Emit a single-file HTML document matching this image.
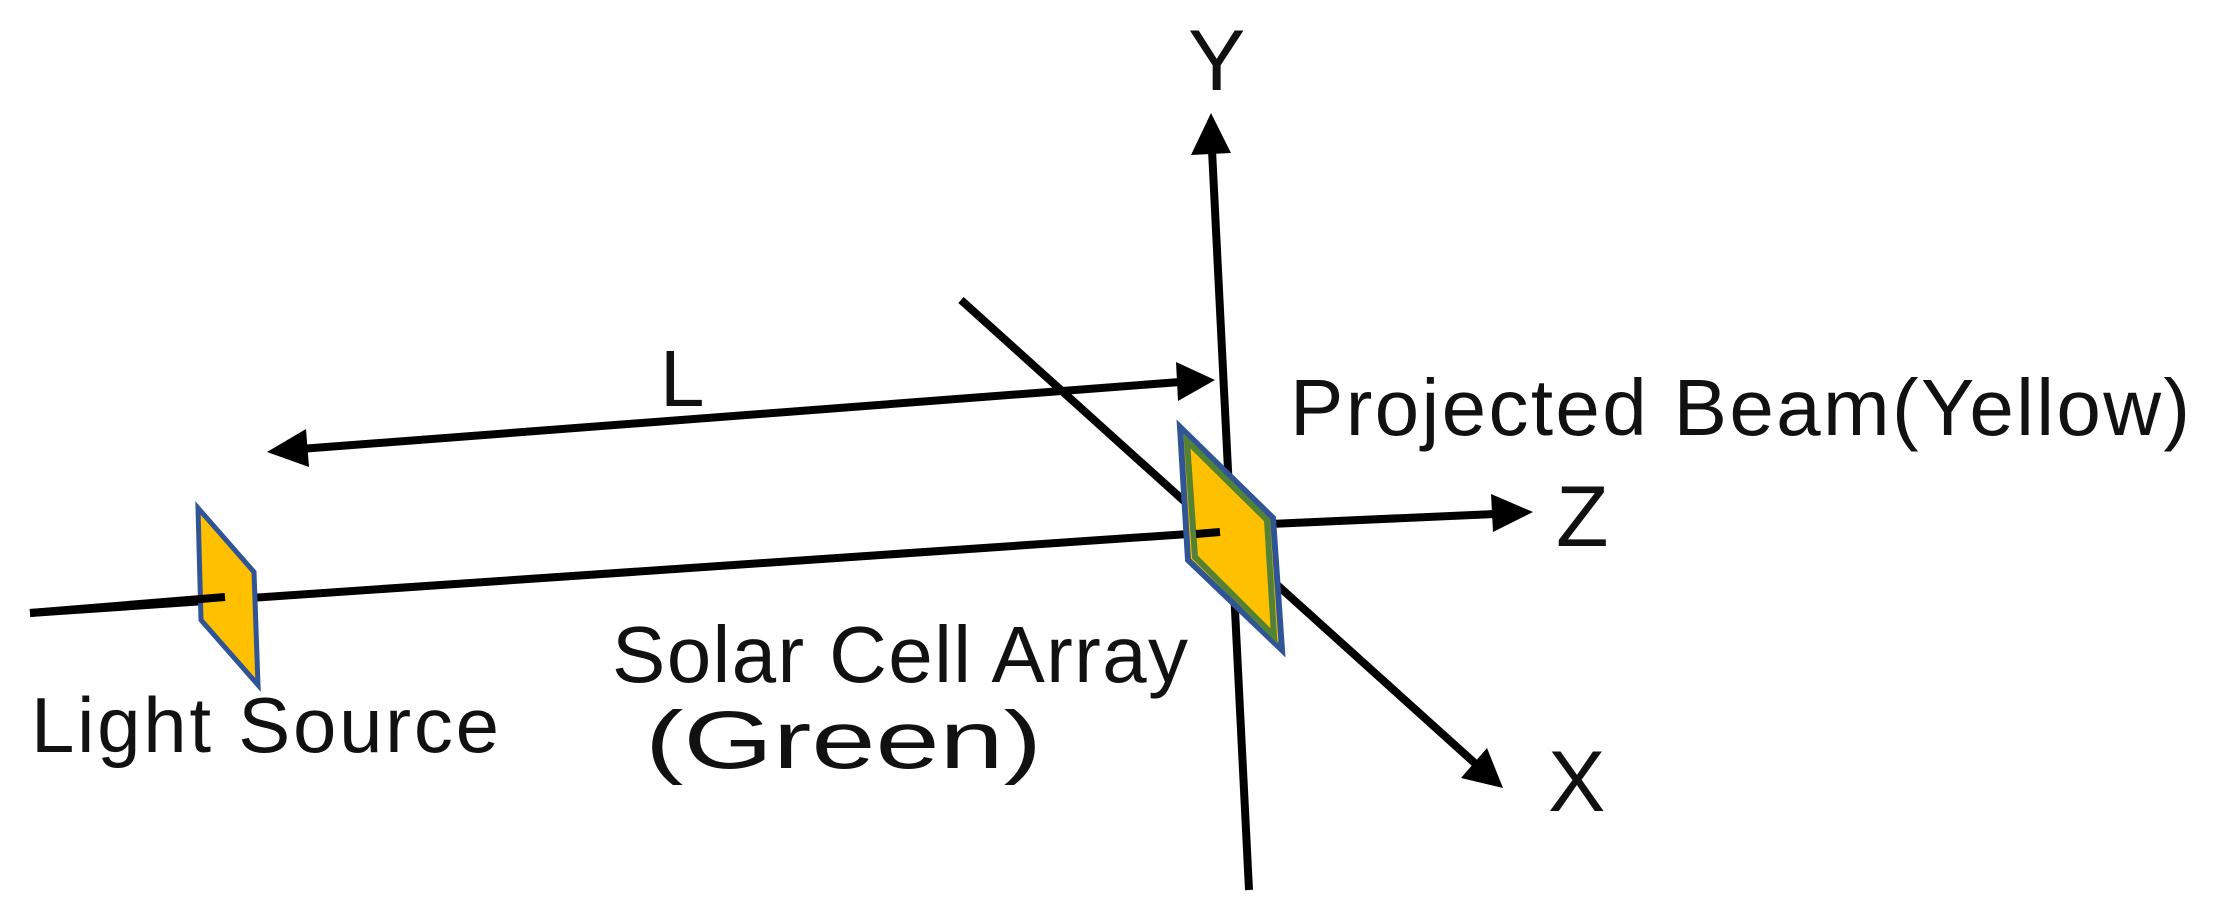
<!DOCTYPE html>
<html><head><meta charset="utf-8"><style>html,body{margin:0;padding:0;background:#fff}svg{display:block}</style></head>
<body>
<svg width="2223" height="911" viewBox="0 0 2223 911" xmlns="http://www.w3.org/2000/svg">
<g stroke="#000" stroke-width="8" fill="none" stroke-linecap="butt">
<line x1="1249" y1="890" x2="1212" y2="150"/>
<line x1="961" y1="300" x2="1478" y2="766"/>
<line x1="300" y1="449" x2="1180" y2="382"/>
<line x1="30" y1="613" x2="1218" y2="532"/>
<line x1="1270" y1="524" x2="1495" y2="514"/>
</g>
<g fill="#000">
<polygon points="1211,113 1231,153 1191,155"/>
<polygon points="1503,788 1461,778 1487,748"/>
<polygon points="1533,512 1493,532 1491,494"/>
<polygon points="267,452 306,429 309,467"/>
<polygon points="1215,380 1178,401 1176,362"/>
</g>
<polygon points="198,508 254,572 258,685 201,620" fill="#ffc000" stroke="#2f5597" stroke-width="5"/>
<line x1="30" y1="613" x2="225" y2="597" stroke="#000" stroke-width="8"/>
<polygon points="1180,427 1273,518 1282,650 1188,560" fill="#ffc000" stroke="#2f5597" stroke-width="6"/>
<polygon points="1187,441 1267,520 1274,636 1195,557" fill="none" stroke="#548235" stroke-width="6"/>
<line x1="1196" y1="534" x2="1220" y2="532" stroke="#000" stroke-width="8"/>
<g font-family="Liberation Sans, sans-serif" fill="#111">
<text x="1290" y="435" font-size="80" textLength="900" lengthAdjust="spacing">Projected Beam(Yellow)</text>
<text x="612" y="682" font-size="80" textLength="576" lengthAdjust="spacing">Solar Cell Array</text>
<text x="645" y="768" font-size="82" textLength="397" lengthAdjust="spacingAndGlyphs" transform="translate(0,0)">(Green)</text>
<text x="31" y="752" font-size="78" textLength="468" lengthAdjust="spacing">Light Source</text>
<text x="660" y="406" font-size="80">L</text>
<text x="1188" y="90" font-size="86">Y</text>
<text x="1548" y="811" font-size="86">X</text>
<text x="1556" y="546" font-size="86">Z</text>
</g>
</svg>
</body></html>
